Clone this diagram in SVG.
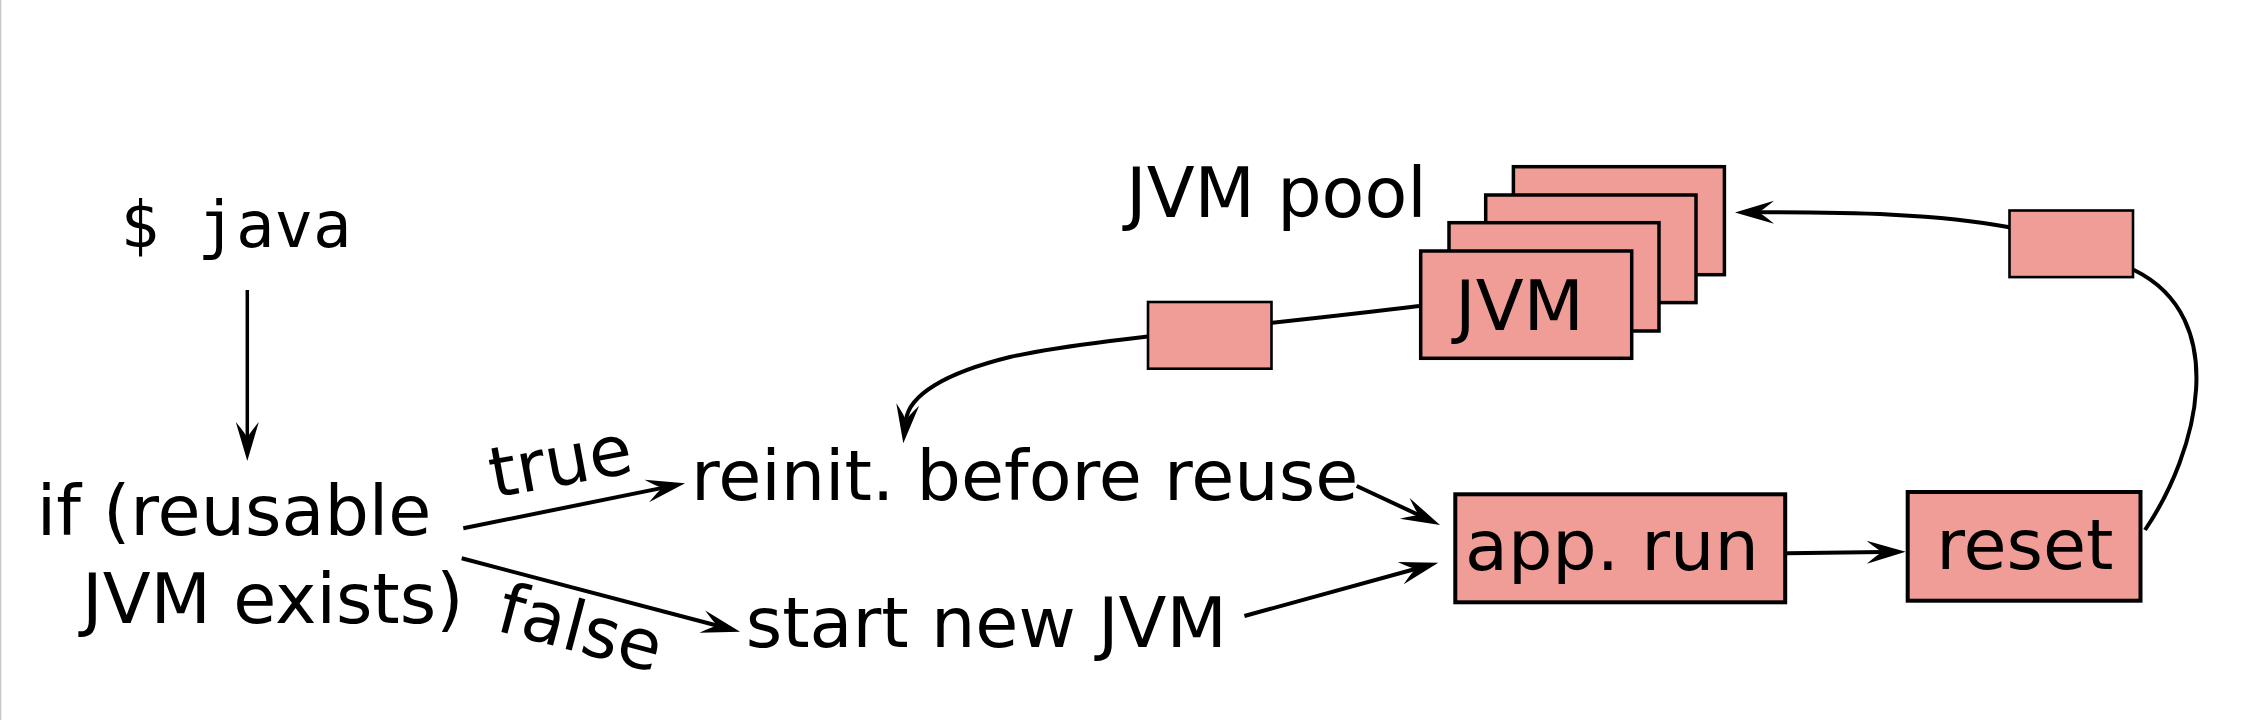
<svg xmlns="http://www.w3.org/2000/svg" width="2248" height="720" viewBox="0 0 2248 720">
  <style>
    .t { font-family: "DejaVu Sans", "Liberation Sans", sans-serif; font-size: 70px; fill: #000; }
    .mono { font-family: "DejaVu Sans Mono", "Liberation Mono", monospace; font-size: 64px; fill: #000; }
    .box { fill: #f09d98; stroke: #000; stroke-width: 4; }
    .pool { fill: #f09d98; stroke: #000; stroke-width: 3.5; }
    .tok { fill: #f09d98; stroke: #000; stroke-width: 2.6; }
    .c { fill: none; stroke: #000; stroke-width: 4; }
  </style>
  <defs>
    <marker id="ah" markerUnits="userSpaceOnUse" viewBox="-20 -14 48 28" refX="0" refY="0" markerWidth="48" markerHeight="28" orient="auto" overflow="visible">
      <path d="M23,0 L-16,-11.5 Q-4,-1.5 0,0 Q-4,1.5 -16,11.5 Z" fill="#000"/>
    </marker>
  </defs>
  <rect x="0" y="0" width="1.3" height="720" fill="#c8c8c8"/>

  <g id="connectors">
    <path class="c" style="stroke-width:3.5" d="M247.3,290 L247.3,438" marker-end="url(#ah)"/>
    <path class="c" d="M463.3,528.3 L662.5,487.9" marker-end="url(#ah)"/>
    <path class="c" d="M461.7,558.3 L717.8,625.8" marker-end="url(#ah)"/>
    <path class="c" d="M1356.7,486 L1419.2,515.2" marker-end="url(#ah)"/>
    <path class="c" d="M1244.4,616 L1416.1,568.8" marker-end="url(#ah)"/>
    <path class="c" d="M1787,553.3 L1882.7,552" marker-end="url(#ah)"/>
    <path class="c" d="M1419,306 C1250,327 1090,339 1010,357 C945,373 908.8,395 905.9,420.4" marker-end="url(#ah)"/>
    <path class="c" d="M2145,530 C2198,452 2232,318 2134,270 L2008,227 C1940,214 1850,212 1758,212.3" marker-end="url(#ah)"/>
  </g>

  <g id="start">
    <text class="mono" x="236" y="246.7" text-anchor="middle">$ java</text>
  </g>
  <g id="condition">
    <text class="t" x="36.7" y="535.3">if (reusable</text>
    <text class="t" x="82" y="622.6">JVM exists)</text>
  </g>
  <g id="label-true">
    <text class="t" transform="translate(494,498) rotate(-10.5)">true</text>
  </g>
  <g id="label-false">
    <text class="t" transform="translate(494,630) rotate(14.8)">false</text>
  </g>
  <g id="reinit">
    <text class="t" x="691" y="500">reinit. before reuse</text>
  </g>
  <g id="start-new">
    <text class="t" x="745.7" y="646.7">start new JVM</text>
  </g>
  <g id="pool-label">
    <text class="t" x="1126" y="217.3">JVM pool</text>
  </g>
  <g id="jvm-pool">
    <rect class="pool" x="1513.4" y="166.7" width="211" height="108"/>
    <rect class="pool" x="1485.7" y="195" width="210.3" height="107.6"/>
    <rect class="pool" x="1449" y="222.7" width="210" height="108.3"/>
    <rect class="pool" x="1420.7" y="251" width="211" height="107.3"/>
    <text class="t" x="1455" y="330">JVM</text>
  </g>
  <g id="token-left">
    <rect class="tok" x="1148" y="302" width="123.5" height="66.7"/>
  </g>
  <g id="token-right">
    <rect class="tok" x="2009.5" y="210.5" width="123.5" height="66.6"/>
  </g>
  <g id="app-run">
    <rect class="box" x="1455.3" y="494.3" width="329.9" height="108"/>
    <text class="t" x="1465" y="570">app. run</text>
  </g>
  <g id="reset">
    <rect class="box" x="1907.7" y="492" width="232.8" height="108.7"/>
    <text class="t" x="1936.2" y="569.3">reset</text>
  </g>
</svg>
